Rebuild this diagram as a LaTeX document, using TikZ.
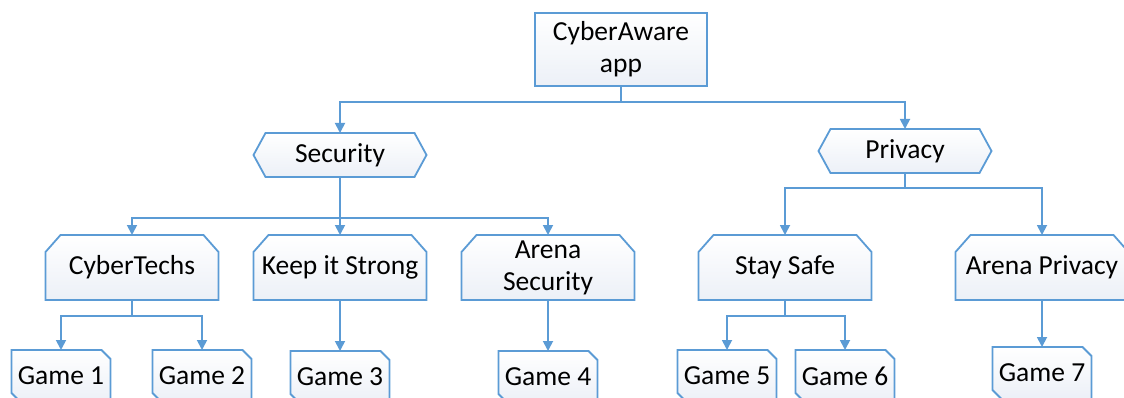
\documentclass[tikz,border=0pt]{standalone}
\usepackage{fontspec}
\setmainfont{Carlito}
\usetikzlibrary{arrows.meta}

\definecolor{edgeblue}{RGB}{91,155,213}
\definecolor{fillblue}{RGB}{236,240,247}

% Outline shapes built on the rectangle's anchors
\newdimen\shpL \newdimen\shpR \newdimen\shpT \newdimen\shpB \newdimen\shpM
\makeatletter
\def\shp@corners{%
  \southwest \global\shpL=\pgf@x \global\shpB=\pgf@y
  \northeast \global\shpR=\pgf@x \global\shpT=\pgf@y
  \global\shpM=.5\shpB \global\advance\shpM by .5\shpT}
\def\shp@inherit{%
  \inheritsavedanchors[from=rectangle]
  \inheritanchorborder[from=rectangle]
  \inheritanchor[from=rectangle]{center}
  \inheritanchor[from=rectangle]{north}
  \inheritanchor[from=rectangle]{south}
  \inheritanchor[from=rectangle]{east}
  \inheritanchor[from=rectangle]{west}
  \inheritanchor[from=rectangle]{north east}
  \inheritanchor[from=rectangle]{north west}
  \inheritanchor[from=rectangle]{south east}
  \inheritanchor[from=rectangle]{south west}}
% pointed on left and right
\pgfdeclareshape{hexbox}{%
  \shp@inherit
  \backgroundpath{%
    \shp@corners
    \pgfpathmoveto{\pgfqpoint{\shpL}{\shpM}}%
    \pgfpathlineto{\pgfqpoint{\dimexpr\shpL+12pt\relax}{\shpT}}%
    \pgfpathlineto{\pgfqpoint{\dimexpr\shpR-12pt\relax}{\shpT}}%
    \pgfpathlineto{\pgfqpoint{\shpR}{\shpM}}%
    \pgfpathlineto{\pgfqpoint{\dimexpr\shpR-12pt\relax}{\shpB}}%
    \pgfpathlineto{\pgfqpoint{\dimexpr\shpL+12pt\relax}{\shpB}}%
    \pgfpathclose}}
% both top corners cut
\pgfdeclareshape{tabbox}{%
  \shp@inherit
  \backgroundpath{%
    \shp@corners
    \pgfpathmoveto{\pgfqpoint{\shpL}{\shpB}}%
    \pgfpathlineto{\pgfqpoint{\shpL}{\dimexpr\shpT-17pt\relax}}%
    \pgfpathlineto{\pgfqpoint{\dimexpr\shpL+15pt\relax}{\shpT}}%
    \pgfpathlineto{\pgfqpoint{\dimexpr\shpR-15pt\relax}{\shpT}}%
    \pgfpathlineto{\pgfqpoint{\shpR}{\dimexpr\shpT-17pt\relax}}%
    \pgfpathlineto{\pgfqpoint{\shpR}{\shpB}}%
    \pgfpathclose}}
% top right and bottom left corners cut
\pgfdeclareshape{snipbox}{%
  \shp@inherit
  \backgroundpath{%
    \shp@corners
    \pgfpathmoveto{\pgfqpoint{\shpL}{\dimexpr\shpB+9pt\relax}}%
    \pgfpathlineto{\pgfqpoint{\shpL}{\shpT}}%
    \pgfpathlineto{\pgfqpoint{\dimexpr\shpR-9pt\relax}{\shpT}}%
    \pgfpathlineto{\pgfqpoint{\shpR}{\dimexpr\shpT-9pt\relax}}%
    \pgfpathlineto{\pgfqpoint{\shpR}{\shpB}}%
    \pgfpathlineto{\pgfqpoint{\dimexpr\shpL+9pt\relax}{\shpB}}%
    \pgfpathclose}}
\makeatother

\tikzset{
  box/.style={draw=edgeblue, line width=1.8pt, top color=white, bottom color=fillblue,
    inner sep=0pt, outer sep=0pt, align=center, font=\fontsize{27.5}{32}\selectfont,
    text=black},
  rootbox/.style={box, rectangle, minimum width=172pt, minimum height=73pt},
  topicbox/.style={box, shape=hexbox, minimum width=173pt, minimum height=44pt},
  gamebox/.style={box, shape=tabbox, minimum width=173pt, minimum height=65pt},
  leafbox/.style={box, shape=snipbox, minimum width=99pt, minimum height=52pt},
  link/.style={draw=edgeblue, line width=1.8pt,
    -{Triangle[length=10pt,width=10pt]}},
  bus/.style={draw=edgeblue, line width=1.8pt}
}

\begin{document}
\begin{tikzpicture}[x=1pt, y=-1pt]
  \useasboundingbox (0,0) rectangle (1124,398);
  \begin{scope}
  \clip (0,0) rectangle (1124,398);

  % root
  \node[rootbox] (root) at (621,49.5) {CyberAware\\app};

  % topics
  \node[topicbox] (sec) at (340,155) {Security};
  \node[topicbox] (priv) at (905,151) {Privacy};

  % games
  \node[gamebox] (ct) at (132,267.5) {CyberTechs};
  \node[gamebox] (kis) at (340,267.5) {Keep it Strong};
  \node[gamebox] (as) at (548,267.5) {Arena\\Security};
  \node[gamebox] (ss) at (785,267.5) {Stay Safe};
  \node[gamebox] (ap) at (1042,267.5) {Arena Privacy};

  % levels
  \node[leafbox] (g1) at (61,376) {Game 1};
  \node[leafbox] (g2) at (202,376) {Game 2};
  \node[leafbox] (g3) at (340,377) {Game 3};
  \node[leafbox] (g4) at (548,377) {Game 4};
  \node[leafbox] (g5) at (727,376) {Game 5};
  \node[leafbox] (g6) at (845,376) {Game 6};
  \node[leafbox] (g7) at (1042,373) {Game 7};

  % bus junctions
  \coordinate (j0) at (621,102);
  \coordinate (j1) at (340,218);
  \coordinate (j2) at (905,188);
  \coordinate (j3) at (132,316);
  \coordinate (j4) at (785,316);

  % connectors
  \draw[bus] (root.south) -- (j0);
  \draw[link] (j0) -| (sec.north);
  \draw[link] (j0) -| (priv.north);

  \draw[bus] (sec.south) -- (j1);
  \draw[link] (j1) -| (ct.north);
  \draw[link] (j1) -- (kis.north);
  \draw[link] (j1) -| (as.north);

  \draw[bus] (priv.south) -- (j2);
  \draw[link] (j2) -| (ss.north);
  \draw[link] (j2) -| (ap.north);

  \draw[bus] (ct.south) -- (j3);
  \draw[link] (j3) -| (g1.north);
  \draw[link] (j3) -| (g2.north);

  \draw[link] (kis.south) -- (g3.north);
  \draw[link] (as.south) -- (g4.north);

  \draw[bus] (ss.south) -- (j4);
  \draw[link] (j4) -| (g5.north);
  \draw[link] (j4) -| (g6.north);

  \draw[link] (ap.south) -- (g7.north);
  \end{scope}
\end{tikzpicture}
\end{document}
